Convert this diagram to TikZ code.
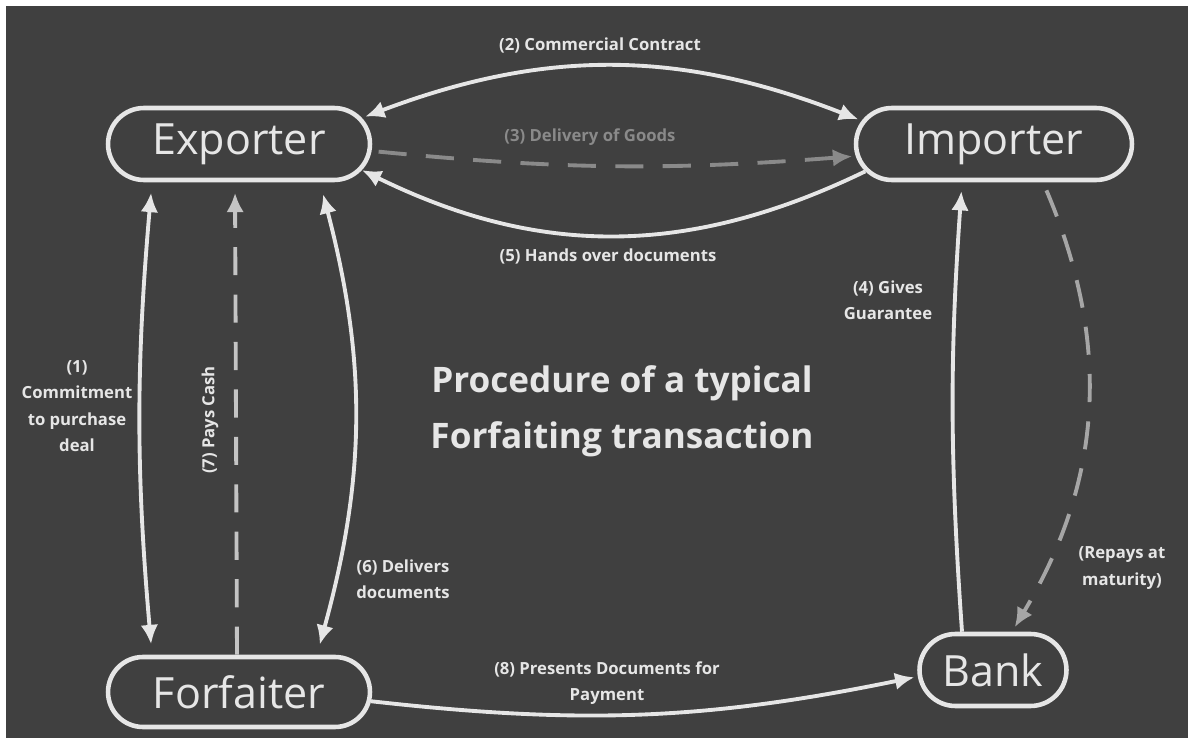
\documentclass[tikz,border=0pt]{standalone}
\usepackage{fontspec}
\setmainfont{Open Sans}
\usetikzlibrary{arrows,arrows.meta,positioning,shapes.misc}

\definecolor{board}{HTML}{404040}
\definecolor{chalk}{HTML}{E6E6E6}
\definecolor{dimchalk}{HTML}{C4C4C4}
\definecolor{fadechalk}{HTML}{8A8A8A}
\definecolor{greychalk}{HTML}{A6A6A6}

\begin{document}
\begin{tikzpicture}[x=0.02cm,y=-0.02cm]
\tikzstyle{party}=[rounded rectangle, draw=chalk, line width=2.6pt, minimum height=1.44cm, text=chalk, font=\fontsize{24.5}{26}\selectfont, inner sep=0pt]
\tikzstyle{note}=[text=chalk, font=\bfseries\fontsize{9.5}{15}\selectfont, align=center]
\tikzstyle{flow}=[draw=chalk, line width=2.2pt, -{Latex[length=11pt,width=10pt]}]
\tikzstyle{both}=[flow, {Latex[length=11pt,width=10pt]}-{Latex[length=11pt,width=10pt]}]
\tikzstyle{faint}=[flow, dash pattern=on 16pt off 11pt]
\useasboundingbox (0,0) rectangle (1188,740);
\fill[white] (0,0) rectangle (1188,740);
\fill[board] (6,6) rectangle (1188,738);

% parties
\node[party, minimum width=5.24cm] (exp) at (239,144) {Exporter};
\node[party, minimum width=5.52cm] (imp) at (994,144) {Importer};
\node[party, minimum width=5.24cm, minimum height=1.4cm] (forf) at (239,692) {Forfaiter};
\node[party, minimum width=2.94cm] (bank) at (993,670) {Bank};

% title
\node[note, font=\bfseries\fontsize{20}{32}\selectfont] (title) at (622,411) {Procedure of a typical\\Forfaiting transaction};

% exporter - forfaiter
\draw[both, shorten >=6pt, shorten <=6pt] ([xshift=-1.74cm]exp.south) to[bend right=5] ([xshift=-1.74cm]forf.north);
\draw[faint, draw=dimchalk, shorten >=6pt] ([xshift=-0.04cm]forf.north) -- ([xshift=-0.08cm]exp.south);
\draw[both, shorten >=6pt, shorten <=7pt] ([xshift=1.62cm]exp.south) to[bend left=15] ([xshift=1.56cm]forf.north);

% exporter - importer
\draw[both, shorten >=2pt, shorten <=2pt] (exp.12) to[bend left=21] (imp.170);
\draw[faint, draw=fadechalk, shorten >=2pt, shorten <=4pt] (exp.-3) to[bend right=5] (imp.185);
\draw[flow] (imp.192) to[bend left=26] (exp.-12);

% importer - bank
\draw[flow, shorten >=5pt] ([xshift=-0.62cm]bank.north) to[bend left=4] ([xshift=-0.64cm]imp.south);
\draw[faint, draw=greychalk, shorten >=3pt, shorten <=5pt] ([xshift=0.98cm]imp.south) to[bend left=27] ([xshift=0.38cm]bank.north);

% forfaiter - bank
\draw[flow, shorten >=2pt] (forf.-4) to[bend right=9] (bank.185);

% labels
\node[note] (l1) at (77,406) {(1)\\Commitment\\to purchase\\deal};
\node[note] (l2) at (600,45) {(2) Commercial Contract};
\node[note, text=fadechalk] (l3) at (590,137) {(3) Delivery of Goods};
\node[note] (l4) at (888,300) {(4) Gives\\Guarantee};
\node[note] (l5) at (608,256) {(5) Hands over documents};
\node[note] (l6) at (403,579) {(6) Delivers\\documents};
\node[note, rotate=90] (l7) at (210,420) {(7) Pays Cash};
\node[note] (l8) at (607,683) {(8) Presents Documents for\\Payment};
\node[note] (lr) at (1122,568) {(Repays at\\maturity)};
\end{tikzpicture}
\end{document}
